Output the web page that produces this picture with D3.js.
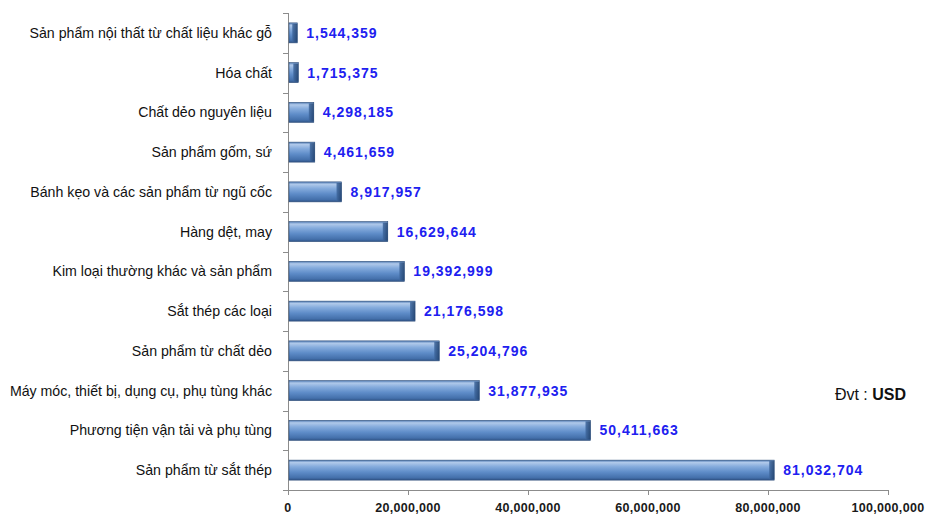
<!DOCTYPE html>
<html><head><meta charset="utf-8">
<script src="https://cdn.jsdelivr.net/npm/d3@7"></script>
<style>body{margin:0;background:#fff}</style>
</head><body>
<svg id="c" width="927" height="518"></svg>
<script>
const categories = [
  "Sản phẩm nội thất từ chất liệu khác gỗ",
  "Hóa chất",
  "Chất dẻo nguyên liệu",
  "Sản phẩm gốm, sứ",
  "Bánh kẹo và các sản phẩm từ ngũ cốc",
  "Hàng dệt, may",
  "Kim loại thường khác và sản phẩm",
  "Sắt thép các loại",
  "Sản phẩm từ chất dẻo",
  "Máy móc, thiết bị, dụng cụ, phụ tùng khác",
  "Phương tiện vận tải và phụ tùng",
  "Sản phẩm từ sắt thép"
];
const values = [1544359, 1715375, 4298185, 4461659, 8917957, 16629644, 19392999, 21176598, 25204796, 31877935, 50411663, 81032704];
const xTicks = [0, 20000000, 40000000, 60000000, 80000000, 100000000];

const svg = d3.select("#c");
const m = {left: 288, top: 13};
const x = d3.scaleLinear().domain([0, 100000000]).range([m.left, 888]);
const yb = d3.scaleBand().domain(categories).range([m.top, 490]);

const defs = svg.append("defs");
const g1 = defs.append("linearGradient").attr("id","bg").attr("x1",0).attr("y1",0).attr("x2",0).attr("y2",1);
[[0,"#4f7ab3"],[0.12,"#b0c9ea"],[0.32,"#86acdd"],[0.6,"#5e8cc8"],[0.88,"#4470ab"],[1,"#2f5386"]].forEach(s=>g1.append("stop").attr("offset",s[0]).attr("stop-color",s[1]));
const g2 = defs.append("linearGradient").attr("id","eg").attr("x1",0).attr("y1",0).attr("x2",1).attr("y2",0);
[[0,"#4069a0"],[1,"#20406b"]].forEach(s=>g2.append("stop").attr("offset",s[0]).attr("stop-color",s[1]));

svg.append("line").attr("x1",m.left+0.5).attr("x2",m.left+0.5).attr("y1",m.top).attr("y2",490).attr("stroke","#8c8c8c");
svg.append("line").attr("x1",m.left).attr("x2",888).attr("y1",490.5).attr("y2",490.5).attr("stroke","#8c8c8c");
const bounds = categories.map(c=>yb(c)).concat([490]);
svg.selectAll(".ct").data(bounds).enter().append("line")
  .attr("x1",m.left-5).attr("x2",m.left).attr("y1",d=>Math.round(d)+0.5).attr("y2",d=>Math.round(d)+0.5)
  .attr("stroke","#8c8c8c");
svg.selectAll(".xt").data(xTicks).enter().append("line")
  .attr("x1",d=>Math.round(x(d))+0.5).attr("x2",d=>Math.round(x(d))+0.5).attr("y1",490).attr("y2",495)
  .attr("stroke","#8c8c8c");
svg.selectAll(".xl").data(xTicks).enter().append("text")
  .attr("x",d=>x(d)).attr("y",512).attr("text-anchor","middle")
  .attr("font-family","'Liberation Sans',Arial,sans-serif").attr("font-weight","bold")
  .attr("font-size",12.5).attr("fill","#1a1a1a").attr("letter-spacing","0.3")
  .text(d=>d3.format(",")(d));

const bh = 20;
const bar = svg.selectAll(".b").data(categories).enter().append("g");
bar.append("rect").attr("x",m.left+1).attr("y",c=>yb(c)+yb.bandwidth()/2-bh/2)
  .attr("width",(c,i)=>x(values[i])-m.left-1).attr("height",bh).attr("fill","url(#bg)")
  .attr("stroke","#2f4f7a").attr("stroke-width",0.6);
bar.append("rect").attr("x",(c,i)=>x(values[i])-5).attr("y",c=>yb(c)+yb.bandwidth()/2-bh/2+1)
  .attr("width",(c,i)=>Math.min(5,x(values[i])-m.left-1)).attr("height",bh-2).attr("fill","url(#eg)").attr("opacity",0.85);

svg.selectAll(".cl").data(categories).enter().append("text")
  .attr("transform",c=>`translate(${m.left-16},${yb(c)+yb.bandwidth()/2+5}) scale(0.945,1)`)
  .attr("text-anchor","end")
  .attr("font-family","'Liberation Sans',Arial,sans-serif").attr("font-size",15).attr("fill","#111")
  .text(c=>c);

svg.selectAll(".vl").data(categories).enter().append("text")
  .attr("x",(c,i)=>x(values[i])+9).attr("y",c=>yb(c)+yb.bandwidth()/2+5)
  .attr("font-family","'Liberation Sans',Arial,sans-serif").attr("font-weight","bold")
  .attr("font-size",14).attr("fill","#2020f0").attr("letter-spacing","1")
  .text((c,i)=>d3.format(",")(values[i]));

const u = svg.append("text").attr("x",906).attr("y",400).attr("text-anchor","end")
  .attr("font-family","'Liberation Sans',Arial,sans-serif").attr("font-size",16).attr("fill","#111");
u.append("tspan").text("Đvt :  ");
u.append("tspan").attr("font-weight","bold").text("USD");
</script>
</body></html>
